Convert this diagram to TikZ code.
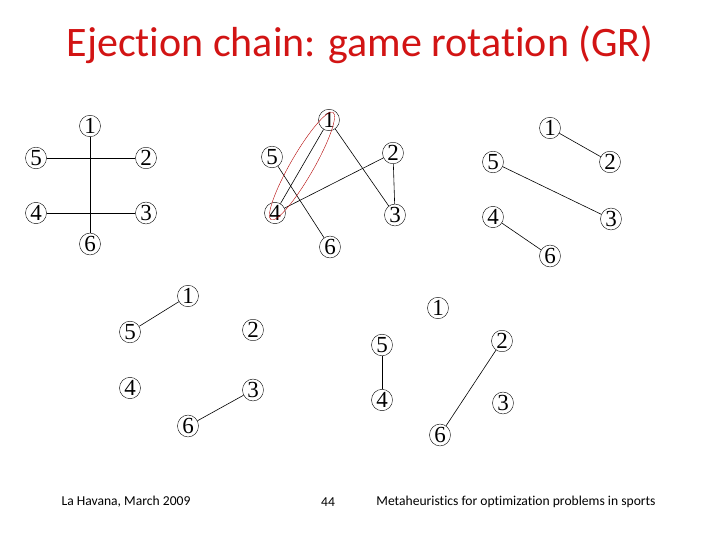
\documentclass[tikz,border=0pt]{standalone}
\usepackage{fontspec}
\setmainfont{Liberation Serif}
\newfontfamily\ttl[Ligatures=NoCommon]{Carlito}
\usetikzlibrary{shapes.geometric}
\definecolor{ttlred}{RGB}{210,20,20}
\begin{document}
\begin{tikzpicture}[x=1pt,y=-1pt,
  vx/.style={draw,ellipse,minimum width=21pt,minimum height=18pt,inner sep=0pt,font=\fontsize{23}{23}\selectfont},
  ed/.style={draw,line width=0.6pt},
  foot/.style={font=\ttl\fontsize{13.6}{14}\selectfont}]
\useasboundingbox (0,0) rectangle (720,540);
\node[text=ttlred,font=\ttl\fontsize{42}{44}\selectfont] (title) at (360,45) {Ejection chain: game rotation (GR)};
% graph A
\node[vx] (a1) at (90,126) {1};
\node[vx] (a5) at (36,158) {5};
\node[vx] (a2) at (146,158) {2};
\node[vx] (a4) at (36,213) {4};
\node[vx] (a3) at (146,213) {3};
\node[vx] (a6) at (90,244) {6};
\draw[ed] (a1)--(a6); \draw[ed] (a5)--(a2); \draw[ed] (a4)--(a3);
% graph B
\node[vx] (b1) at (329,120) {1};
\node[vx] (b5) at (272,157) {5};
\node[vx] (b2) at (393,153) {2};
\node[vx] (b4) at (275,213) {4};
\node[vx] (b3) at (395,215) {3};
\node[vx] (b6) at (330,247) {6};
\draw[ed] (b1)--(b4); \draw[ed] (b1)--(b3); \draw[ed] (b5)--(b6); \draw[ed] (b4)--(b2); \draw[ed] (b2)--(b3);
\node[draw=red!70!black,ellipse,minimum width=124pt,minimum height=23pt,rotate=60] (red) at (302,166) {};
% graph C
\node[vx] (c1) at (550,128) {1};
\node[vx] (c5) at (493,162) {5};
\node[vx] (c2) at (610,162) {2};
\node[vx] (c4) at (493,217) {4};
\node[vx] (c3) at (611,219) {3};
\node[vx] (c6) at (550,256) {6};
\draw[ed] (c1)--(c2); \draw[ed] (c5)--(c3); \draw[ed] (c4)--(c6);
% graph D
\node[vx] (d1) at (188,296) {1};
\node[vx] (d5) at (130,332) {5};
\node[vx] (d2) at (253,330) {2};
\node[vx] (d4) at (130,388) {4};
\node[vx] (d3) at (253,390) {3};
\node[vx] (d6) at (188,426) {6};
\draw[ed] (d1)--(d5); \draw[ed] (d3)--(d6);
% graph E
\node[vx] (e1) at (438,308) {1};
\node[vx] (e5) at (382,345) {5};
\node[vx] (e2) at (502,341) {2};
\node[vx] (e4) at (382,400) {4};
\node[vx] (e3) at (503,403) {3};
\node[vx] (e6) at (440,435) {6};
\draw[ed] (e5)--(e4); \draw[ed] (e2)--(e6);
% footer
\node[foot] (f1) at (126,502) {La Havana, March 2009};
\node[foot] (f2) at (328,502) {44};
\node[foot] (f3) at (516,502) {Metaheuristics for optimization problems in sports};
\end{tikzpicture}
\end{document}
